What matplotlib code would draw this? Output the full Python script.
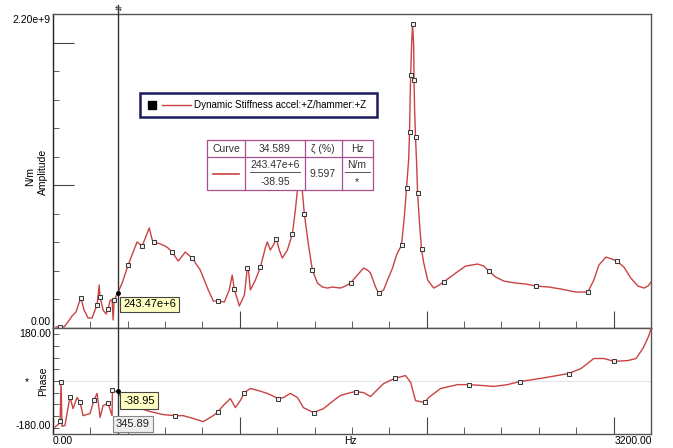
import matplotlib
matplotlib.use("Agg")
import matplotlib.pyplot as plt
from matplotlib.patches import Rectangle
from matplotlib.lines import Line2D
import numpy as np

plt.rcParams["font.family"] = ["Liberation Sans", "DejaVu Sans"]

# amplitude curve: frequency (Hz) and dynamic stiffness (1e6 N/m)
amp_hz = [16, 38, 59, 80, 102, 123, 139, 150, 166, 188, 209, 225, 236, 247, 252, 268, 284, 295, 306, 316,
          322, 327, 345.89, 370, 402, 429, 450, 477, 498, 515, 531, 541, 574, 600, 616, 638, 670, 708, 745,
          788, 831, 858, 884, 917, 943, 959, 970, 997, 1024, 1040, 1045, 1056, 1083, 1110, 1136, 1147, 1163,
          1179, 1195, 1211, 1227, 1254, 1281, 1297, 1308, 1324, 1335, 1345, 1367, 1388, 1415, 1442, 1469,
          1495, 1538, 1565, 1592, 1624, 1662, 1683, 1699, 1726, 1742, 1769, 1790, 1817, 1838, 1865, 1881,
          1892, 1903, 1908, 1911, 1914, 1919, 1924, 1930, 1932, 1935, 1940, 1946, 1951, 1962, 1972, 1983,
          2005, 2037, 2058, 2090, 2155, 2208, 2273, 2305, 2332, 2369, 2412, 2476, 2530, 2584, 2653, 2718,
          2798, 2862, 2894, 2921, 2959, 2991, 3018, 3055, 3092, 3130, 3162, 3184, 3200]
amp_val = [7, 7, 7, 42, 84, 112, 175, 210, 126, 70, 70, 126, 161, 301, 217, 126, 98, 133, 196, 196,
           56, 196, 243.47, 315, 441, 532, 603, 574, 645, 701, 617, 603, 589, 574, 560, 532, 469, 532, 490,
           406, 266, 189, 189, 182, 266, 371, 273, 154, 231, 420, 420, 266, 336, 427, 560, 603, 546,
           581, 624, 546, 490, 546, 659, 827, 967, 1150, 946, 799, 582, 406, 315, 287, 280,
           287, 280, 294, 315, 364, 420, 406, 385, 287, 245, 266, 336, 420, 511, 581, 792,
           981, 1177, 1373, 1597, 1773, 1983, 2130, 1983, 1738, 1527, 1338, 1142, 946, 722, 553, 462,
           336, 280, 294, 322, 385, 434, 448, 434, 399, 357, 329, 315, 308, 294, 287, 273,
           252, 252, 336, 441, 497, 483, 469, 427, 350, 294, 280, 294, 322]
amp_marks = [38, 150, 236, 252, 295, 327, 402, 477, 541, 638, 745, 884, 970, 1040, 1110, 1195, 1281,
             1345, 1388, 1592, 1742, 1865, 1892, 1908, 1914, 1924, 1932, 1940, 1951, 1972, 2090, 2332,
             2584, 2862, 3018]

# phase curve: frequency (Hz) and phase (deg)
ph_hz = [11, 32, 38, 43, 48, 64, 91, 107, 129, 145, 161, 198, 220, 236, 252, 268, 295, 316, 318, 332,
         345.89, 359, 397, 450, 520, 590, 654, 697, 750, 804, 858, 884, 911, 949, 976, 1002, 1024, 1056,
         1099, 1147, 1206, 1233, 1270, 1308, 1340, 1394, 1447, 1501, 1538, 1592, 1619, 1662, 1699, 1769,
         1828, 1887, 1914, 1940, 1989, 2010, 2074, 2165, 2224, 2289, 2358, 2433, 2498, 2610, 2760, 2825,
         2894, 2948, 3002, 3077, 3120, 3157, 3189, 3200]
ph_val = [-178, -165, -153, -2, -175, -172, -60, -107, -64, -83, -134, -126, -72, -48, -141, -95, -87, -134, -33, -41,
          -38.95, -56, -87, -103, -118, -130, -134, -134, -145, -157, -134, -118, -95, -68, -103, -76, -45, -29,
          -37, -48, -68, -64, -48, -64, -103, -122, -107, -76, -56, -45, -41, -45, -60, -10,
          10, 21, -6, -76, -83, -64, -29, -14, -14, -17, -21, -14, -2, 10, 29, 48,
          87, 87, 76, 79, 87, 126, 176, 205]
ph_marks = [38, 43, 91, 145, 220, 295, 318, 654, 884, 1024, 1206, 1394, 1619, 1828, 1989, 2224, 2498,
            2760, 3002]

cursor_hz = 345.89
cursor_amp = 243.47e6
cursor_ph = -38.95
legend_text = "Dynamic Stiffness accel:+Z/hammer:+Z"

W, H = 673, 448
red = "#c94343"
box_col = "#a8508f"

def fx(x):
    return x / W

def fy(y):
    return 1 - y / H

fig = plt.figure(figsize=(W / 100, H / 100), dpi=100)
ax1 = fig.add_axes([fx(53), fy(328), fx(651) - fx(53), fy(14) - fy(328)])
ax2 = fig.add_axes([fx(53), fy(434), fx(651) - fx(53), fy(328) - fy(434)], sharex=ax1)

amp = np.array(amp_val) * 1e6
mk1 = [amp_hz.index(f) for f in amp_marks]
mk2 = [ph_hz.index(f) for f in ph_marks]

ax1.plot(amp_hz, amp, color=red, lw=1.0, marker="s", ms=3.2, mfc="#eeeeee", mec="#333333",
         mew=0.7, markevery=mk1, zorder=3)
ax2.plot(ph_hz, ph_val, color=red, lw=1.0, marker="s", ms=3.2, mfc="#eeeeee", mec="#333333",
         mew=0.7, markevery=mk2, zorder=3)

ax1.set_xlim(0, 3200)
ax1.set_ylim(0, 2.2e9)
ax2.set_ylim(-205, 205)
ax2.axhline(0, color="#e6e6e6", lw=0.8, zorder=1)

for ax in (ax1, ax2):
    for s in ax.spines.values():
        s.set_color("#555555")
        s.set_linewidth(1.0)
    ax.spines["left"].set_color("#222222")
    ax.set_xticks(np.arange(0, 3201, 1000))
    ax.set_xticks(np.arange(0, 3201, 200), minor=True)
    ax.tick_params(axis="x", which="major", direction="in", length=12, color="#444444",
                   labelbottom=False)
    ax.tick_params(axis="x", which="minor", direction="in", length=5, color="#444444")
    ax.tick_params(axis="y", which="both", direction="in", color="#444444", labelleft=False)

ax1.set_yticks([1e9, 2e9])
ax1.set_yticks(np.arange(0, 2.21e9, 2e8), minor=True)
ax1.tick_params(axis="y", which="major", length=15)
ax1.tick_params(axis="y", which="minor", length=4)
ax2.set_yticks([])
ax2.set_yticks(np.arange(-180, 181, 45), minor=True)
ax2.tick_params(axis="y", which="minor", length=4)

# cursor
for ax in (ax1, ax2):
    ax.axvline(cursor_hz, color="#333333", lw=1.0, zorder=4)
cx = ax1.transData.transform((cursor_hz, 0))[0] / fig.dpi / fig.get_figwidth()
fig.add_artist(Line2D([cx, cx], [fy(14), fy(5)], color="#333333", lw=1.0))
fig.text(cx, fy(8), "⇆", fontsize=6, ha="center", va="center", color="#444444",
         family="DejaVu Sans")
ax1.plot([cursor_hz], [cursor_amp], "o", color="black", ms=2.5, zorder=5)
ax2.plot([cursor_hz], [cursor_ph], "o", color="black", ms=2.5, zorder=5)

ax1.annotate("243.47e+6", (cursor_hz, cursor_amp), xytext=(4, -8), textcoords="offset points",
             fontsize=8, ha="left", va="center", zorder=6,
             bbox=dict(boxstyle="square,pad=0.25", fc="#ffffc4", ec="#444444", lw=0.8))
ax2.annotate("-38.95", (cursor_hz, cursor_ph), xytext=(4, -7), textcoords="offset points",
             fontsize=8, ha="left", va="center", zorder=6,
             bbox=dict(boxstyle="square,pad=0.3", fc="#ffffc4", ec="#444444", lw=0.8))
fig.text(fx(116), fy(424), "345.89", fontsize=8, ha="left", va="center", color="#222222",
         bbox=dict(boxstyle="square,pad=0.3", fc="#eeeeee", ec="#888888", lw=0.8))

# axis texts
fs = 7.5
fig.text(fx(51), fy(20), "2.20e+9", fontsize=fs, ha="right", va="center")
fig.text(fx(51), fy(322), "0.00", fontsize=fs, ha="right", va="center")
fig.text(fx(51), fy(334), "180.00", fontsize=fs, ha="right", va="center")
fig.text(fx(51), fy(426), "-180.00", fontsize=fs, ha="right", va="center")
fig.text(fx(30), fy(176), "N/m", fontsize=fs, rotation=90, ha="center", va="center")
fig.text(fx(43), fy(172), "Amplitude", fontsize=fs, rotation=90, ha="center", va="center")
fig.text(fx(43), fy(381), "Phase", fontsize=fs, rotation=90, ha="center", va="center")
fig.text(fx(27), fy(382), "*", fontsize=fs, ha="center", va="center")
fig.text(fx(53), fy(441), "0.00", fontsize=fs, ha="left", va="center")
fig.text(fx(350), fy(441), "Hz", fontsize=fs, ha="center", va="center")
fig.text(fx(652), fy(441), "3200.00", fontsize=fs, ha="right", va="center")

# legend box
fig.add_artist(Rectangle((fx(140), fy(117)), fx(377) - fx(140), fy(93) - fy(117),
                         fc="white", ec="#1c1c5c", lw=1.8, zorder=10))
fig.add_artist(Rectangle((fx(148), fy(109)), fx(8), fx(8) * W / H, fc="black", ec="black", zorder=11))
fig.add_artist(Line2D([fx(162), fx(191)], [fy(105), fy(105)], color=red, lw=1.0, zorder=11))
fig.text(fx(194), fy(105), legend_text, fontsize=7.1, ha="left", va="center", zorder=11)

# modal table
tx = [207, 245, 305, 342, 373]
ty = [140, 157, 173, 190]
fig.add_artist(Rectangle((fx(tx[0]), fy(ty[3])), fx(tx[4]) - fx(tx[0]), fy(ty[0]) - fy(ty[3]),
                         fc="white", ec=box_col, lw=0.9, zorder=10))
for x in tx[1:4]:
    fig.add_artist(Line2D([fx(x), fx(x)], [fy(ty[0]), fy(ty[3])], color=box_col, lw=0.9, zorder=11))
fig.add_artist(Line2D([fx(tx[0]), fx(tx[4])], [fy(ty[1]), fy(ty[1])], color=box_col, lw=0.9, zorder=11))
fig.add_artist(Line2D([fx(250), fx(300)], [fy(172), fy(172)], color="#555555", lw=0.7, zorder=11))
fig.add_artist(Line2D([fx(345), fx(370)], [fy(172), fy(172)], color="#555555", lw=0.7, zorder=11))
fig.add_artist(Line2D([fx(213), fx(239)], [fy(174), fy(174)], color=red, lw=1.2, zorder=11))
cells = [(226, 149, "Curve"), (275, 149, "34.589"), (323, 149, "ζ (%)"), (357, 149, "Hz"),
         (275, 165, "243.47e+6"), (275, 182, "-38.95"), (323, 174, "9.597"),
         (357, 165, "N/m"), (357, 182, "*")]
for x, y, t in cells:
    fig.text(fx(x), fy(y), t, fontsize=7.5, ha="center", va="center", color="#333333", zorder=12)

fig.savefig("out.png", dpi=100)
